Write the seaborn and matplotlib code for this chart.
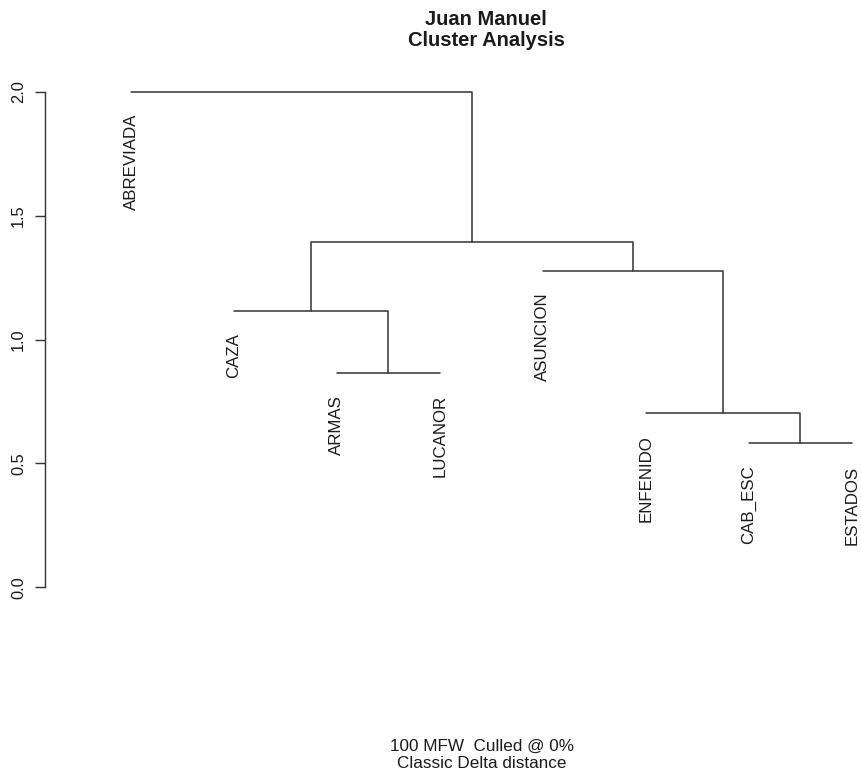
import pandas as pd
import matplotlib.pyplot as plt
import seaborn as sns

# leaves in plotting order
labels = ["ABREVIADA", "CAZA", "ARMAS", "LUCANOR", "ASUNCION", "ENFENIDO", "CAB_ESC", "ESTADOS"]
# merges, R hclust style: negative = leaf index (1-based), positive = earlier merge
merge_a = [-3, -7, -6, -2, -5, 4, -1]
merge_b = [-4, -8, 2, 1, 3, 5, 6]
heights = [0.866, 0.581, 0.702, 1.116, 1.278, 1.392, 2.0]
yticks = [0.0, 0.5, 1.0, 1.5, 2.0]

title = "Juan Manuel\nCluster Analysis"
subtitle = "100 MFW  Culled @ 0%\nClassic Delta distance"

sns.set_style("white")
plt.rcParams['font.family'] = ['Liberation Sans', 'DejaVu Sans']

W, H = 861, 776
fig = plt.figure(figsize=(W / 100, H / 100), dpi=100)
ax = fig.add_axes([45 / W, (H - 587.3) / H, (W - 45) / W, (587.3 - 91.7) / H])

# positions of leaves and merges
leaf_x = {i + 1: i + 1 for i in range(len(labels))}
node_x, node_h = {}, {}
rows = []
leaf_h = {}
for k, (a, b, h) in enumerate(zip(merge_a, merge_b, heights), start=1):
    xs, hs = [], []
    for c in (a, b):
        if c < 0:
            xs.append(leaf_x[-c])
            hs.append(h)
            leaf_h[-c] = h
        else:
            xs.append(node_x[c])
            hs.append(node_h[c])
    node_x[k] = (xs[0] + xs[1]) / 2
    node_h[k] = h
    for px, py in zip([xs[0], xs[0], xs[1], xs[1]], [hs[0], h, h, hs[1]]):
        rows.append({"x": px, "y": py, "seg": k})
seg_df = pd.DataFrame(rows)

sns.lineplot(data=seg_df, x="x", y="y", units="seg", estimator=None, sort=False,
             color="#333333", linewidth=1.1, ax=ax, clip_on=False)

for i, lab in enumerate(labels, start=1):
    ax.annotate(lab, xy=(leaf_x[i], leaf_h[i]), xytext=(0, -16), textcoords="offset points",
                rotation=90, ha="center", va="top", fontsize=12.2, color="#1a1a1a",
                annotation_clip=False)

ax.set_xlim(0.1647, 8.09)
ax.set_ylim(0, 2.0)
ax.set_xticks([])
ax.set_yticks(yticks)
ax.set_yticklabels([f"{v:.1f}" for v in yticks], rotation=90, va="center", fontsize=11.8,
                   color="#1a1a1a")
ax.tick_params(axis="y", left=True, length=7.2, width=1.0, pad=6.5, color="#333333")
for s in ["top", "right", "bottom"]:
    ax.spines[s].set_visible(False)
ax.spines["left"].set_bounds(0, 2.0)
ax.spines["left"].set_color("#333333")
ax.spines["left"].set_linewidth(1.0)
ax.set_xlabel("")
ax.set_ylabel("")

fig.text(486 / W, 1 - 30 / H, title, ha="center", va="center", fontsize=14.5,
         fontweight="bold", color="#1a1a1a", linespacing=1.15)
fig.text(482 / W, 1 - 755 / H, subtitle, ha="center", va="center", fontsize=12.3,
         color="#1a1a1a", linespacing=1.15)

fig.savefig("out.png", dpi=100)
